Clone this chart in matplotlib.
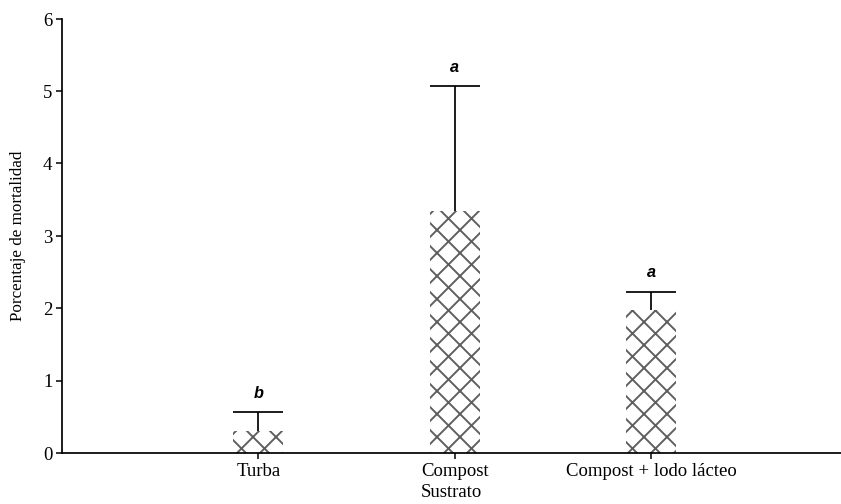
import numpy as np
import matplotlib
matplotlib.use("Agg")
import matplotlib.pyplot as plt

# values
sustratos = ["Turba", "Compost", "Compost + lodo lácteo"]
mortalidad = [0.30, 3.34, 1.97]
error_sup = [0.26, 1.73, 0.26]
letras = ["b", "a", "a"]

DPI = 138
plt.rcParams['font.family'] = ['Liberation Serif', 'DejaVu Serif']
plt.rcParams['hatch.linewidth'] = 1.0

fig = plt.figure(figsize=(841.4 / DPI, 504.4 / DPI), dpi=DPI)
ax = fig.add_axes([62 / 841, 1 - 453 / 504, 1 - 62 / 841, (453 - 19) / 504])

x = np.arange(len(sustratos))
w = 0.255
top = np.array(mortalidad) + np.array(error_sup)

ax.bar(x, mortalidad, width=w, color='white', edgecolor='#5e5e5e',
       hatch='xx', linewidth=0, zorder=2)
# only the upper half of the error bar
ax.vlines(x, mortalidad, top, color='black', linewidth=0.9, zorder=3)
ax.hlines(top, x - w / 2, x + w / 2, color='black', linewidth=0.9, zorder=3)

for xi, t, l in zip(x, top, letras):
    ax.annotate(l, (xi, t), xytext=(0, 10), textcoords='offset points',
                ha='center', va='center', fontsize=8.5, fontweight='bold',
                fontstyle='italic', family=['Liberation Sans', 'DejaVu Sans'])

ax.set_xlim(-1, 2.97)
ax.set_ylim(0, 6)
ax.set_yticks(range(0, 7))
ax.set_xticks(x)
ax.set_xticklabels(sustratos)
ax.tick_params(axis='both', labelsize=9.8, length=3, width=0.8, direction='out', pad=2)
ax.set_xlabel("Sustrato", fontsize=9.8, labelpad=2)
ax.set_ylabel("Porcentaje de mortalidad", fontsize=8.9, labelpad=9)

ax.spines['top'].set_visible(False)
ax.spines['right'].set_visible(False)
ax.spines['left'].set_linewidth(0.9)
ax.spines['bottom'].set_linewidth(0.9)

fig.savefig("out.png", dpi=DPI)
